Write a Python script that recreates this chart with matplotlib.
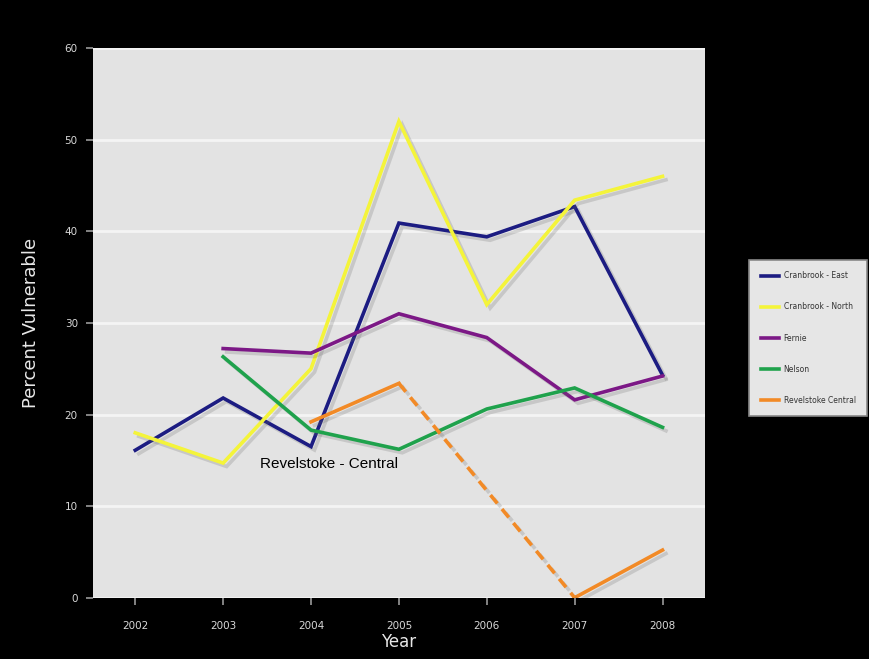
import matplotlib
matplotlib.use("Agg")
import matplotlib.pyplot as plt
import matplotlib.patheffects as pe
import numpy as np

years = [2002, 2003, 2004, 2005, 2006, 2007, 2008]

cranbrook_east = [16.1, 21.8, 16.5, 40.9, 39.4, 42.7, 24.3]
cranbrook_north = [18.0, 14.7, 25.0, 52.0, 32.0, 43.4, 46.0]
fernie = [None, 27.2, 26.7, 31.0, 28.4, 21.6, 24.2]
nelson = [None, 26.3, 18.3, 16.2, 20.6, 22.9, 18.6]
revelstoke = [None, None, 19.2, 23.4, None, 0.0, 5.2]

labels = ["Cranbrook - East", "Cranbrook - North", "Fernie", "Nelson", "Revelstoke Central"]
colors = ["#1c1c82", "#f4f43a", "#7c1886", "#1fa24c", "#f28a26"]

shadow = [pe.SimpleLineShadow(offset=(2.5, -2.5), shadow_color="#666666", alpha=0.22),
          pe.Normal()]

fig = plt.figure(figsize=(8.7, 6.59), dpi=100, facecolor="black")
ax = fig.add_axes([0.107, 0.093, 0.703, 0.834])
ax.set_facecolor("#e3e3e3")

handles = []
series = [cranbrook_east, cranbrook_north, fernie, nelson]
for vals, lab, col in zip(series, labels[:4], colors[:4]):
    x = [y for y, v in zip(years, vals) if v is not None]
    v = [v for v in vals if v is not None]
    h, = ax.plot(x, v, color=col, lw=2.6, solid_joinstyle="miter",
                 path_effects=shadow, label=lab, zorder=3)
    handles.append(h)

# Revelstoke: solid where consecutive, dashed across the missing 2006
ry = np.array(years, dtype=float)
rv = np.array([np.nan if v is None else v for v in revelstoke])
ax.plot(ry, rv, color=colors[4], lw=2.6, path_effects=shadow,
        label=labels[4], zorder=3)
ok = ~np.isnan(rv)
ax.plot(ry[ok][1:3], rv[ok][1:3], color=colors[4], lw=2.6, ls=(0, (3, 2)),
        path_effects=shadow, zorder=3)

ax.text(2004.2, 14.6, "Revelstoke - Central", fontsize=11, color="black",
        family="Liberation Sans", ha="center", va="center", zorder=4)

ax.set_xlim(2001.52, 2008.48)
ax.set_ylim(0, 60)
ax.set_yticks(range(0, 61, 10))
ax.set_xticks(years)
ax.grid(axis="y", color="#f4f4f4", lw=2)
ax.set_axisbelow(True)
for s in ax.spines.values():
    s.set_visible(False)
ax.tick_params(colors="#9a9a9a", labelcolor="#d8d8d8", labelsize=7.5, length=5, width=1.2)
ax.tick_params(axis="x", pad=12)
ax.tick_params(axis="y", pad=6)

ax.set_ylabel("Percent Vulnerable", color="#e8e8e8", fontsize=13, labelpad=18)
ax.set_xlabel("Year", color="#e8e8e8", fontsize=12, labelpad=1)

leg_handles = [plt.Line2D([], [], color=c, lw=2.6) for c in colors]
leg = fig.legend(handles=leg_handles, labels=labels, loc="center",
                 bbox_to_anchor=(0.929, 0.487), fontsize=5.5, frameon=True,
                 facecolor="#e6e6e6", edgecolor="#888888", fancybox=False,
                 framealpha=1, handlelength=2.4, labelspacing=2.9, borderpad=1.5,
                 handletextpad=0.6)
leg.get_frame().set_linewidth(1.2)
for t in leg.get_texts():
    t.set_color("#333333")

fig.savefig("out.png", dpi=100, facecolor="black")
